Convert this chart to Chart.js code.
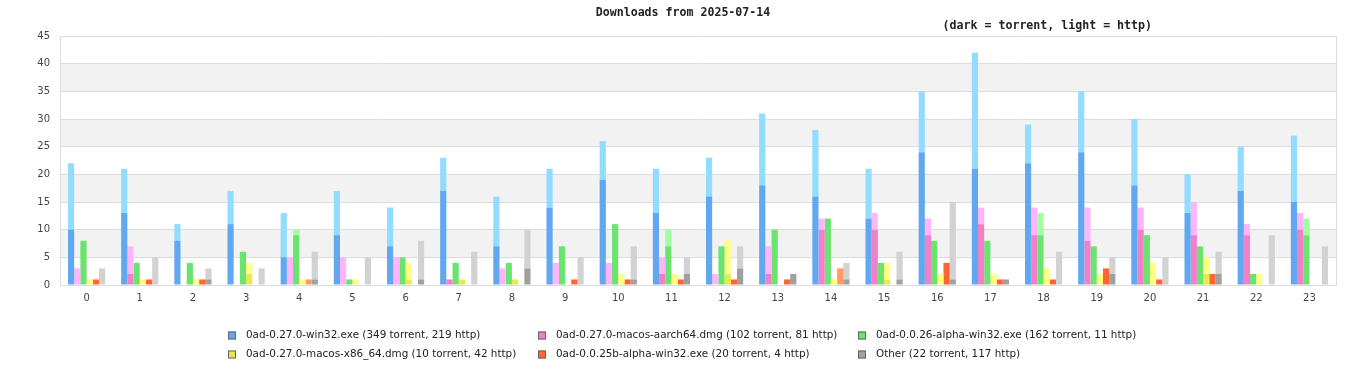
<!DOCTYPE html>
<html>
<head>
<meta charset="utf-8">
<script src="https://cdn.jsdelivr.net/npm/chart.js@4/dist/chart.umd.min.js"></script>
<style>
  html, body { margin: 0; padding: 0; background: #ffffff; }
  #wrap { width: 1366px; height: 380px; }
</style>
</head>
<body>
<div id="wrap"><canvas id="c" width="1366" height="380"></canvas></div>
<script>
const titleText = "Downloads from 2025-07-14";
const subtitleText = "(dark = torrent, light = http)";
const hours = ["0","1","2","3","4","5","6","7","8","9","10","11","12","13","14","15","16","17","18","19","20","21","22","23"];
const yTicks = [0,5,10,15,20,25,30,35,40,45];

const names = [
  "0ad-0.27.0-win32.exe",
  "0ad-0.27.0-macos-aarch64.dmg",
  "0ad-0.0.26-alpha-win32.exe",
  "0ad-0.27.0-macos-x86_64.dmg",
  "0ad-0.0.25b-alpha-win32.exe",
  "Other"
];

const win32Torrent   = [10,13,8,11,5,9,7,17,7,14,19,13,16,18,16,12,24,21,22,24,18,13,17,15];
const win32Http      = [12,8,3,6,8,8,7,6,9,7,7,8,7,13,12,9,11,21,7,11,12,7,8,12];
const aarch64Torrent = [0,2,0,0,0,0,0,1,0,0,0,2,0,2,10,10,9,11,9,8,10,9,9,10];
const aarch64Http    = [3,5,0,0,5,5,5,0,3,4,4,3,2,5,2,3,3,3,5,6,4,6,2,3];
const a26Torrent     = [8,4,4,6,9,1,5,4,4,7,11,7,7,10,12,4,8,8,9,7,9,7,2,9];
const a26Http        = [0,0,0,0,1,0,0,0,0,0,0,3,0,0,0,0,0,0,4,0,0,0,0,3];
const x86Torrent     = [0,0,0,2,0,0,1,1,1,0,0,0,2,0,0,1,0,0,0,0,0,2,0,0];
const x86Http        = [1,1,1,2,1,1,3,0,0,0,2,2,6,0,1,3,2,2,3,2,4,3,2,0];
const a25bTorrent    = [1,1,1,0,0,0,0,0,0,1,1,1,1,1,0,0,4,1,1,3,1,2,0,0];
const a25bHttp       = [0,0,0,0,1,0,0,0,0,0,0,0,0,0,3,0,0,0,0,0,0,0,0,0];
const otherTorrent   = [0,0,1,0,1,0,1,0,3,0,1,2,3,2,1,1,1,1,0,2,0,2,0,0];
const otherHttp      = [3,5,2,3,5,5,7,6,7,5,6,3,4,0,3,5,14,0,6,3,5,4,9,7];

const torrentSeries = [win32Torrent, aarch64Torrent, a26Torrent, x86Torrent, a25bTorrent, otherTorrent];
const httpSeries    = [win32Http, aarch64Http, a26Http, x86Http, a25bHttp, otherHttp];

const darkColors  = ["#62a8f0", "#f080c8", "#6ae46e", "#e8e850", "#ff6633", "#a0a0a0"];
const lightColors = ["#92dcff", "#ffb4ff", "#a0ffa0", "#ffff80", "#ff9966", "#d2d2d2"];

const sum = a => a.reduce((s, v) => s + v, 0);

const datasets = [];
names.forEach((n, i) => {
  datasets.push({ label: n + " torrent", data: torrentSeries[i], backgroundColor: darkColors[i], stack: "s" + i, borderWidth: 0 });
  datasets.push({ label: n + " http", data: httpSeries[i], backgroundColor: lightColors[i], stack: "s" + i, borderWidth: 0 });
});

const legendItems = names.map((n, i) => ({
  text: n + " (" + sum(torrentSeries[i]) + " torrent, " + sum(httpSeries[i]) + " http)",
  color: darkColors[i]
}));

const decorPlugin = {
  id: "decor",
  beforeDraw(chart) {
    const { ctx, chartArea: a, scales: { y } } = chart;
    ctx.save();
    ctx.fillStyle = "#f2f2f2";
    for (let v = 35; v >= 5; v -= 10) {
      const top = y.getPixelForValue(v + 5);
      const bot = y.getPixelForValue(v);
      ctx.fillRect(a.left, top, a.right - a.left, bot - top);
    }
    ctx.strokeStyle = "#dcdcdc";
    ctx.lineWidth = 1;
    ctx.beginPath();
    ctx.moveTo(Math.round(a.right) + 0.5, a.top);
    ctx.lineTo(Math.round(a.right) + 0.5, a.bottom);
    ctx.stroke();
    ctx.restore();
  },
  afterDraw(chart) {
    const { ctx, width } = chart;
    ctx.save();
    ctx.fillStyle = "#222222";
    ctx.font = 'bold 11.6px "DejaVu Sans Mono"';
    ctx.textBaseline = "middle";
    ctx.textAlign = "center";
    ctx.fillText(titleText, width / 2, 13);
    ctx.textAlign = "right";
    ctx.fillText(subtitleText, 1152, 26);

    // legend grid: 3 columns x 2 rows
    const colX = [228, 538, 858];
    const rowY = [335.5, 354.5];
    ctx.font = '10.4px "DejaVu Sans"';
    ctx.textAlign = "left";
    legendItems.forEach((it, i) => {
      const col = i % 3, row = Math.floor(i / 3);
      const bx = colX[col], by = rowY[row];
      ctx.fillStyle = it.color;
      ctx.fillRect(bx, by - 4, 8, 8);
      ctx.strokeStyle = "#666666";
      ctx.lineWidth = 1;
      ctx.strokeRect(bx + 0.5, by - 3.5, 7, 7);
      ctx.fillStyle = "#222222";
      ctx.fillText(it.text, bx + 18, by);
    });
    ctx.restore();
  }
};

new Chart(document.getElementById("c"), {
  type: "bar",
  data: { labels: hours, datasets },
  options: {
    responsive: false,
    animation: false,
    layout: { padding: { left: 0, right: 30, top: 36, bottom: 75 } },
    plugins: { legend: { display: false }, title: { display: false }, tooltip: { enabled: false } },
    datasets: { bar: { categoryPercentage: 0.7, barPercentage: 1.0 } },
    scales: {
      x: {
        stacked: true,
        grid: { display: false, drawTicks: false },
        border: { display: true, color: "#dcdcdc" },
        ticks: { padding: 7, color: "#444444", font: { family: "DejaVu Sans", size: 10 } },
        afterFit: s => { s.height = 20; }
      },
      y: {
        stacked: true,
        min: 0, max: 45,
        afterBuildTicks: s => { s.ticks = yTicks.map(v => ({ value: v })); },
        grid: { color: "#dcdcdc", drawTicks: false },
        border: { display: true, color: "#dcdcdc" },
        ticks: { padding: 10, color: "#444444", font: { family: "DejaVu Sans", size: 10 } },
        afterFit: s => { s.width = 60; }
      }
    }
  },
  plugins: [decorPlugin]
});
</script>
</body>
</html>
